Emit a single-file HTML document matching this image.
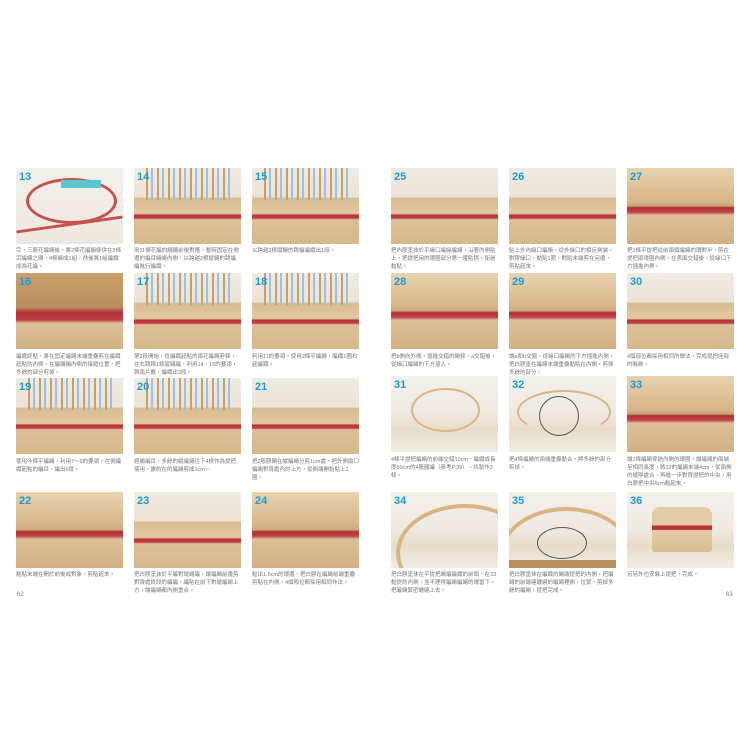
<!DOCTYPE html>
<html><head><meta charset="utf-8"><style>
body{margin:0;width:750px;height:750px;background:#fff;position:relative;overflow:hidden;font-family:"Liberation Sans","Noto Sans CJK TC",sans-serif}
.p{position:absolute;width:107px;height:76px;overflow:hidden;background:linear-gradient(#f0ebe4 0,#ece3d6 38%,#d8bb91 40%,#e2c9a2 60%,#b8323a 62%,#c24048 66%,#dcc098 68%,#d6b88c 100%)}
.p.b{background:linear-gradient(#f3f0ec 0,#efe9e2 50%,#e8dcc8 70%,#f0ece6 100%)}
.p.r{background:linear-gradient(#e8d3b0 0,#d7b486 45%,#c9a577 50%,#b03038 52%,#c24048 58%,#dcc098 62%,#d3b083 100%)}
.p.s::before{content:"";position:absolute;left:8px;right:8px;top:0;height:42%;background:repeating-linear-gradient(90deg,transparent 0 4px,#c9a06c 4px 6px,transparent 6px 9px,#9cc0e0 9px 11px)}
.n{position:absolute;left:3px;top:3px;color:#1a9bd7;font-weight:bold;font-size:11px;z-index:2}
.t{position:absolute;width:107px;font-size:5.5px;line-height:8px;color:#777}
.pg{position:absolute;top:592px;font-size:6px;color:#777}
.c{position:absolute;border:2px solid #d9b582;border-radius:50%}
</style></head><body>
<!-- left page -->
<div class="p b" style="left:16px;top:168px;background:linear-gradient(#f3f0ec 0,#efe8e0 100%)"><span class="n">13</span><div style="position:absolute;left:10px;top:10px;width:85px;height:40px;border:3px solid #c4534f;border-radius:50%"></div><div style="position:absolute;left:0;top:55px;width:107px;height:3px;background:#c4534f;transform:rotate(-8deg)"></div><div style="position:absolute;left:45px;top:12px;width:40px;height:8px;background:#5cc6d0"></div></div>
<div class="t" style="left:16px;top:247px">宗，三股花編繩後，將2條花編繩條併在2條宗編繩之間，4條繩成1組，然後將1組編織成為花編。</div>
<div class="p s" style="left:134px;top:168px"><span class="n">14</span></div>
<div class="t" style="left:134px;top:247px">用11條花編的繩繩前後對應，暫時固定在側邊的編目繩繩內側，以跨越2根縱繩的跳編編進行編織。</div>
<div class="p s" style="left:252px;top:168px"><span class="n">15</span></div>
<div class="t" style="left:252px;top:247px">以跨越2根縱繩的跳編編織出1段。</div>

<div class="p r" style="left:16px;top:273px;background:linear-gradient(#c9a06c 0,#b98e5c 45%,#b03038 52%,#c24048 62%,#dcc098 66%,#d3b083 100%)"><span class="n">16</span></div>
<div class="t" style="left:16px;top:353px">編織終點，將在固定編繩末端重疊剪在編織起點的內側，在編繩繩內側的接縫位置，把多餘的部分剪掉。</div>
<div class="p s" style="left:134px;top:273px"><span class="n">17</span></div>
<div class="t" style="left:134px;top:353px">第2段開始，從編織起點的兩花編繩剪條，往右跳移1條縱繩編，利用14、15的要領，將兩片數，編織出3段。</div>
<div class="p s" style="left:252px;top:273px"><span class="n">18</span></div>
<div class="t" style="left:252px;top:353px">利用11的要領，使用2條平編繩，編織1圈右起編織。</div>

<div class="p s" style="left:16px;top:378px"><span class="n">19</span></div>
<div class="t" style="left:16px;top:458px">使用今條平編繩，利用7～9的要領，在側編織起點的編目，編出6段。</div>
<div class="p s" style="left:134px;top:378px"><span class="n">20</span></div>
<div class="t" style="left:134px;top:458px">經繩編目，多餘的縱編繩往下4根作為提把使用，露約在的編繩剪成1cm。</div>
<div class="p" style="left:252px;top:378px"><span class="n">21</span></div>
<div class="t" style="left:252px;top:458px">把2股膠繩在縱編繩分剪1cm處，把外側縱口編繩對齊處內的上方，從側端開始貼上1圈。</div>

<div class="p r" style="left:16px;top:492px"><span class="n">22</span></div>
<div class="t" style="left:16px;top:571px">黏貼末端在開於前後成對象，剪貼起來。</div>
<div class="p" style="left:134px;top:492px"><span class="n">23</span></div>
<div class="t" style="left:134px;top:571px">把白膠塗抹於平編對縫繩編，讓編繩前邊剪對齊處終段的編編，編貼在前下對縫編繩上方，讓編繩都內側重合。</div>
<div class="p r" style="left:252px;top:492px"><span class="n">24</span></div>
<div class="t" style="left:252px;top:571px">黏出1.5cm的環邊，把白膠在編繩前端重疊剪貼在內側，4個隙位都採用相同作法。</div>
<div class="pg" style="left:17px">62</div>

<!-- right page -->
<div class="p" style="left:391px;top:168px"><span class="n">25</span></div>
<div class="t" style="left:391px;top:247px">把內膠塗抹於平緣口編緣編繩，沿著內側貼上，把提把用的環圈部分第一邊貼稍，銜過黏貼。</div>
<div class="p" style="left:509px;top:168px"><span class="n">26</span></div>
<div class="t" style="left:509px;top:247px">貼上外內緣口編繩，從外緣口的相反側端，對齊緣口，黏貼1圈，對貼末端剪在另邊，剪貼起來。</div>
<div class="p r" style="left:627px;top:168px"><span class="n">27</span></div>
<div class="t" style="left:627px;top:247px">把1條平提把從前兩個編繩的環對半，剪在提把兩環圈內側，在表面交錯後，從緣口下方插進內側。</div>

<div class="p r" style="left:391px;top:273px"><span class="n">28</span></div>
<div class="t" style="left:391px;top:353px">把b側向外側，插進交錯的繩條，a交錯後，從緣口編繩的下方插入。</div>
<div class="p r" style="left:509px;top:273px"><span class="n">29</span></div>
<div class="t" style="left:509px;top:353px">讓a和b交錯，從緣口編繩的下方插進內側，把白膠塗在編繩末端重疊黏貼在內側，剪掉多餘的部分。</div>
<div class="p" style="left:627px;top:273px"><span class="n">30</span></div>
<div class="t" style="left:627px;top:353px">4個部位都採用相同的做法，完成提把座部的裝飾。</div>

<div class="p b" style="left:391px;top:376px"><span class="n">31</span><div class="c" style="left:20px;top:12px;width:65px;height:40px"></div></div>
<div class="t" style="left:391px;top:456px">4條平提把編繩的前端交錯10cm，編織成長度60cm的4股圓編（參考P.39），共製作2條。</div>
<div class="p b" style="left:509px;top:376px"><span class="n">32</span><div class="c" style="left:8px;top:14px;width:90px;height:40px;border-bottom-color:transparent"></div><div style="position:absolute;left:30px;top:20px;width:38px;height:38px;border:1px solid #555;border-radius:50%"></div></div>
<div class="t" style="left:509px;top:456px">把4條編繩的兩端重疊黏合，將多餘的部分剪掉。</div>
<div class="p r" style="left:627px;top:376px"><span class="n">33</span></div>
<div class="t" style="left:627px;top:456px">讓1條編繩穿過內側的環圈，讓編繩的兩端呈相同長度，將32的編繩末端4cm，從兩側的縫隙處合，再進一步對齊提把的中央，用白膠把中央6cm黏起來。</div>

<div class="p b" style="left:391px;top:492px"><span class="n">34</span><div class="c" style="left:5px;top:12px;width:130px;height:90px;border-width:4px"></div></div>
<div class="t" style="left:391px;top:571px">把白膠塗抹在平提把繩編編織的前頭，在33黏提的內側，並不理得編繩編繩的環當下，把編繩緊密纏繞上去。</div>
<div class="p b" style="left:509px;top:492px"><span class="n">35</span><div class="c" style="left:-10px;top:15px;width:127px;height:90px;border-width:4px"></div><div style="position:absolute;left:28px;top:35px;width:48px;height:30px;border:1px solid #555;border-radius:50%"></div><div style="position:absolute;left:0;top:68px;width:107px;height:8px;background:#b8905e"></div></div>
<div class="t" style="left:509px;top:571px">把白膠塗抹在編織的繩端提把的內側，把編繩的前端連纏繞的編繩裡側，拉緊，剪掉多餘的編繩，提把完成。</div>
<div class="p b" style="left:627px;top:492px"><span class="n">36</span><div style="position:absolute;left:25px;top:15px;width:60px;height:45px;background:linear-gradient(#e3cca6 0,#e3cca6 40%,#b8323a 42%,#b8323a 50%,#e3cca6 52%,#d9bd92 100%);border-radius:8px 8px 3px 3px"></div></div>
<div class="t" style="left:627px;top:571px">另另外也安裝上提把，完成。</div>
<div class="pg" style="left:726px">63</div>
</body></html>
